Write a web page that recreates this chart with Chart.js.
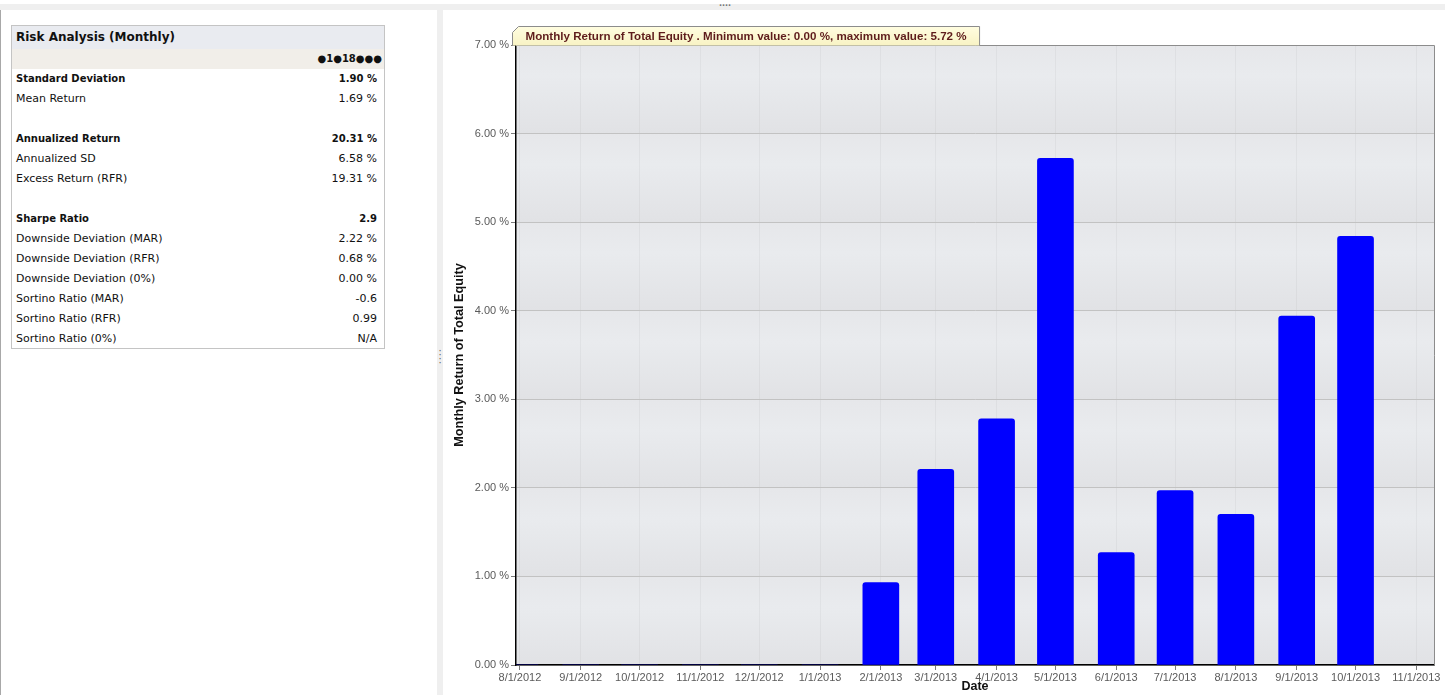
<!DOCTYPE html>
<html>
<head>
<meta charset="utf-8">
<script src="https://cdn.jsdelivr.net/npm/chart.js@4.4.1/dist/chart.umd.min.js"></script>
<style>
  html, body { margin:0; padding:0; background:#fff; width:1445px; height:695px; overflow:hidden; }
  #topbar { position:absolute; left:0; top:4px; width:1445px; height:6px; background:#efefef; }
  #topgrip { position:absolute; left:719px; top:1px; font:bold 8px "DejaVu Sans"; color:#777; line-height:6px; }
  #leftedge { position:absolute; left:0; top:10px; width:1px; height:685px; background:#a8a8a8; }
  #divider { position:absolute; left:437px; top:10px; width:6px; height:685px; background:#efefef; }
  #grip { position:absolute; left:438px; top:349px; font:10px "DejaVu Sans"; color:#666; line-height:4px; width:4px; text-align:center; }
  #risk { position:absolute; left:11px; top:25px; width:374px; border:1px solid #c4c4c4; border-collapse:collapse;
          font:11px "DejaVu Sans"; color:#111; }
  #risk td { padding:0 7px 0 4px; height:20px; white-space:nowrap; box-sizing:border-box; }
  #risk td.v { text-align:right; }
  #risk tr.head td { background:#e9ebf0; font:bold 12px "DejaVu Sans"; height:23px; padding-top:0; }
  #risk tr.sub td { background:#f1eee9; font:bold 10px "DejaVu Sans"; height:20px; text-align:right; padding-right:2px; }
  #risk tr.b td { font-weight:bold; font-size:10px; }
  #wrap { position:absolute; left:443px; top:10px; width:1002px; height:685px; }
</style>
</head>
<body>
<div id="topbar"></div>
<div id="topgrip">....</div>
<div id="leftedge"></div>
<div id="divider"></div>
<div id="grip">·<br>·<br>·<br>·</div>

<table id="risk">
  <tbody id="riskbody">
    <tr class="head"><td colspan="2">Risk Analysis (Monthly)</td></tr>
    <tr class="sub"><td colspan="2">●1●18●●●</td></tr>
  </tbody>
</table>

<div id="wrap"><canvas id="grafica"></canvas></div>

<script>
// tabla de riesgo
const riskNames = ['Standard Deviation','Mean Return','','Annualized Return','Annualized SD','Excess Return (RFR)','',
                   'Sharpe Ratio','Downside Deviation (MAR)','Downside Deviation (RFR)','Downside Deviation (0%)',
                   'Sortino Ratio (MAR)','Sortino Ratio (RFR)','Sortino Ratio (0%)']
const riskValues = ['1.90 %','1.69 %','','20.31 %','6.58 %','19.31 %','',
                    '2.9','2.22 %','0.68 %','0.00 %','-0.6','0.99','N/A']
const riskBold = ['Standard Deviation','Annualized Return','Sharpe Ratio']

// datos de la grafica
const fechas = ['8/1/2012','9/1/2012','10/1/2012','11/1/2012','12/1/2012','1/1/2013','2/1/2013',
                '3/1/2013','4/1/2013','5/1/2013','6/1/2013','7/1/2013','8/1/2013','9/1/2013','10/1/2013']
const retornos = [0, 0, 0, 0, 0, 0, 0.93, 2.21, 2.78, 5.72, 1.27, 1.97, 1.70, 3.94, 4.84]
const etiquetasX = ['8/1/2012','9/1/2012','10/1/2012','11/1/2012','12/1/2012','1/1/2013','2/1/2013','3/1/2013',
                    '4/1/2013','5/1/2013','6/1/2013','7/1/2013','8/1/2013','9/1/2013','10/1/2013','11/1/2013']
const ticksY = [0, 1, 2, 3, 4, 5, 6, 7]

var tbody = document.getElementById('riskbody')
riskNames.forEach(function(n, i){
    var tr = document.createElement('tr')
    if (riskBold.indexOf(n) >= 0) tr.className = 'b'
    tr.innerHTML = '<td>' + (n || '&nbsp;') + '</td><td class="v">' + riskValues[i] + '</td>'
    tbody.appendChild(tr)
})

// dias desde 8/1/2012
function dia(s){
    var p = s.split('/')
    return Math.round((Date.UTC(+p[2], +p[0]-1, +p[1]) - Date.UTC(2012, 7, 1)) / 86400000)
}

var puntos = fechas.map(function(f, i){ return { x: dia(f), y: retornos[i] } })
var minimo = Math.min.apply(null, retornos).toFixed(2)
var maximo = Math.max.apply(null, retornos).toFixed(2)
var titulo = 'Monthly Return of Total Equity . Minimum value: ' + minimo + ' %, maximum value: ' + maximo + ' %'

const fondo = {
    id: 'fondo',
    beforeDraw: function(chart){
        var a = chart.chartArea, ctx = chart.ctx, y = chart.scales.y
        ctx.save()
        for (var i = 0; i < ticksY.length - 1; i++){
            var top = y.getPixelForValue(ticksY[i+1]), bot = y.getPixelForValue(ticksY[i])
            var g = ctx.createLinearGradient(0, top, 0, bot)
            g.addColorStop(0, '#e6e7ea')
            g.addColorStop(0.35, '#e9ebee')
            g.addColorStop(1, '#e1e2e5')
            ctx.fillStyle = g
            ctx.fillRect(a.left, top, a.right - a.left, bot - top)
        }
        ctx.restore()
    },
    afterDraw: function(chart){
        var a = chart.chartArea, ctx = chart.ctx
        ctx.save()
        ctx.strokeStyle = '#8c8c8c'
        ctx.lineWidth = 1
        ctx.beginPath()
        ctx.moveTo(a.left, a.top + 0.5)
        ctx.lineTo(a.right + 0.5, a.top + 0.5)
        ctx.lineTo(a.right + 0.5, a.bottom)
        ctx.stroke()
        // etiqueta del titulo
        ctx.font = 'bold 11.6px "Liberation Sans"'
        var w = ctx.measureText(titulo).width + 26
        var x0 = a.left - 3.5, y1 = a.top + 0.5, y0 = y1 - 19
        ctx.beginPath()
        ctx.moveTo(x0, y1)
        ctx.lineTo(x0, y0 + 6)
        ctx.lineTo(x0 + 6, y0)
        ctx.lineTo(x0 + w, y0)
        ctx.lineTo(x0 + w, y1)
        var g = ctx.createLinearGradient(0, y0, 0, y1)
        g.addColorStop(0, '#fffde0')
        g.addColorStop(1, '#f8f3c4')
        ctx.fillStyle = g
        ctx.fill()
        ctx.strokeStyle = '#8c8c8c'
        ctx.stroke()
        ctx.fillStyle = '#5e1c1c'
        ctx.textBaseline = 'middle'
        ctx.fillText(titulo, x0 + 13, y0 + 10)
        ctx.restore()
    }
}

var grafica = new Chart(document.getElementById('grafica'), {
    type: 'bar',
    data: {
        datasets: [{
            label: 'Monthly Return of Total Equity',
            data: puntos,
            backgroundColor: '#0000ff',
            borderWidth: 0,
            borderRadius: function(c){
                var v = c.raw ? c.raw.y : 0
                return v > 0 ? { topLeft: 3, topRight: 3 } : 0
            },
            borderSkipped: 'bottom',
            barThickness: 36
        }]
    },
    options: {
        responsive: true,
        maintainAspectRatio: false,
        animation: false,
        layout: { padding: { left: 0, right: 11, top: 35, bottom: 0 } },
        plugins: {
            legend: { display: false },
            tooltip: { enabled: false }
        },
        scales: {
            x: {
                type: 'linear',
                offset: false,
                min: -2,
                max: 466,
                afterBuildTicks: function(scale){
                    scale.ticks = etiquetasX.map(function(f){ return { value: dia(f) } })
                },
                afterFit: function(scale){ scale.height = 30 },
                ticks: {
                    autoSkip: false,
                    maxRotation: 0,
                    padding: 1,
                    color: '#5a5a5a',
                    font: { family: 'Liberation Sans', size: 11 },
                    callback: function(v){
                        var i = etiquetasX.map(dia).indexOf(v)
                        return i >= 0 ? etiquetasX[i] : ''
                    }
                },
                grid: { offset: false, color: 'rgba(0,0,0,0.035)', tickColor: '#7a7a7a', tickLength: 5 },
                border: { color: '#000', width: 1.5 },
                title: {
                    display: true, text: 'Date', color: '#111',
                    font: { family: 'Liberation Sans', size: 12.5, weight: 'bold' },
                    padding: { top: 0, bottom: 1 }
                }
            },
            y: {
                min: 0,
                max: 7,
                afterBuildTicks: function(scale){
                    scale.ticks = ticksY.map(function(v){ return { value: v } })
                },
                afterFit: function(scale){ scale.width = 73 },
                ticks: {
                    padding: 2,
                    color: '#5a5a5a',
                    font: { family: 'Liberation Sans', size: 11 },
                    callback: function(v){ return v.toFixed(2) + ' %' }
                },
                grid: { color: '#c2c2c2', tickColor: '#7a7a7a', tickLength: 5 },
                border: { color: '#000', width: 1.5 },
                title: {
                    display: true, text: 'Monthly Return of Total Equity', color: '#111',
                    font: { family: 'Liberation Sans', size: 12.7, weight: 'bold' },
                    padding: { top: 9, bottom: 0 }
                }
            }
        }
    },
    plugins: [fondo]
})
</script>
</body>
</html>
